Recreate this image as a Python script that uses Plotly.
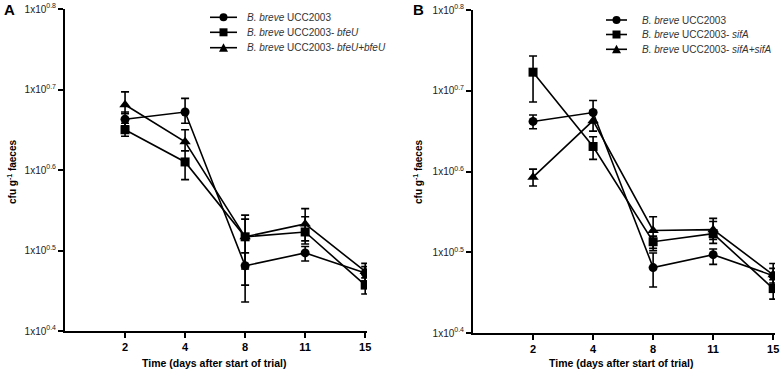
import plotly.graph_objects as go

days = ["2", "4", "8", "11", "15"]
ytick_vals = [4, 5, 6, 7, 8]
ytick_text = ["1x10<sup>0.4</sup>", "1x10<sup>0.5</sup>", "1x10<sup>0.6</sup>", "1x10<sup>0.7</sup>", "1x10<sup>0.8</sup>"]

# Panel A (log10 cfu/g)
a_wt = [6.63, 6.72, 4.81, 4.97, 4.72]
a_wt_hi = [6.72, 6.89, 4.97, 5.05, 4.84]
a_wt_lo = [6.55, 6.58, 4.36, 4.87, 4.62]
a_mut = [6.50, 6.10, 5.17, 5.23, 4.57]
a_mut_hi = [6.58, 6.24, 5.39, 5.42, 4.66]
a_mut_lo = [6.42, 5.88, 4.77, 5.08, 4.46]
a_comp = [6.81, 6.35, 5.17, 5.33, 4.74]
a_comp_hi = [6.97, 6.50, 5.44, 5.52, 4.80]
a_comp_lo = [6.70, 6.24, 4.57, 5.12, 4.62]

# Panel B
b_wt = [6.62, 6.73, 4.81, 4.97, 4.71]
b_wt_hi = [6.70, 6.88, 4.99, 5.04, 4.80]
b_wt_lo = [6.53, 6.60, 4.57, 4.85, 4.62]
b_mut = [7.23, 6.31, 5.13, 5.23, 4.55]
b_mut_hi = [7.43, 6.43, 5.20, 5.38, 4.66]
b_mut_lo = [6.86, 6.15, 5.02, 5.11, 4.42]
b_comp = [5.93, 6.63, 5.27, 5.28, 4.72]
b_comp_hi = [6.03, 6.75, 5.44, 5.42, 4.86]
b_comp_lo = [5.82, 6.50, 5.05, 5.16, 4.60]

names_a = ["<i>B. breve</i> UCC2003", "<i>B. breve</i> UCC2003- <i>bfeU</i>", "<i>B. breve</i> UCC2003- <i>bfeU+bfeU</i>"]
names_b = ["<i>B. breve</i> UCC2003", "<i>B. breve</i> UCC2003- <i>sifA</i>", "<i>B. breve</i> UCC2003- <i>sifA+sifA</i>"]
symbols = ["circle", "square", "triangle-up"]

W, H = 780, 373
FONT = "Arial, Liberation Sans, sans-serif"
xpos = [1, 2, 3, 4, 5]

def px_x(p):
    return p / W

def px_y(p):
    return 1 - p / H

fig = go.Figure()

def add_series(vals, hi, lo, name, sym, xa, ya):
    fig.add_trace(go.Scatter(
        x=xpos, y=vals, name=name, mode="lines+markers",
        xaxis=xa, yaxis=ya, showlegend=False,
        line=dict(color="black", width=1.6),
        marker=dict(symbol=sym, size=9 if sym != "triangle-up" else 10, color="black"),
        error_y=dict(type="data", symmetric=False,
                     array=[h - v for h, v in zip(hi, vals)],
                     arrayminus=[v - l for v, l in zip(vals, lo)],
                     color="black", thickness=1.6, width=4),
    ))

series_a = [(a_wt, a_wt_hi, a_wt_lo), (a_mut, a_mut_hi, a_mut_lo), (a_comp, a_comp_hi, a_comp_lo)]
series_b = [(b_wt, b_wt_hi, b_wt_lo), (b_mut, b_mut_hi, b_mut_lo), (b_comp, b_comp_hi, b_comp_lo)]
for (vals, hi, lo), nm, sym in zip(series_a, names_a, symbols):
    add_series(vals, hi, lo, nm, sym, "x", "y")
for (vals, hi, lo), nm, sym in zip(series_b, names_b, symbols):
    add_series(vals, hi, lo, nm, sym, "x2", "y2")

xaxis_common = dict(range=[0, 5.03], tickvals=xpos, ticktext=days, showline=True,
                    linecolor="black", linewidth=2, ticks="outside", ticklen=5,
                    tickwidth=2, tickcolor="black", showgrid=False, zeroline=False,
                    automargin=False,
                    tickfont=dict(family=FONT, size=11, color="black", weight="bold"))
yaxis_common = dict(range=[4, 8], tickvals=ytick_vals, ticktext=ytick_text, showline=True,
                    linecolor="black", linewidth=2, ticks="outside", ticklen=5,
                    tickwidth=2, tickcolor="black", showgrid=False, zeroline=False,
                    automargin=False,
                    tickfont=dict(family=FONT, size=10, color="#222"))

fig.update_layout(
    width=W, height=H, margin=dict(l=0, r=0, t=0, b=0, autoexpand=False),
    plot_bgcolor="white", paper_bgcolor="white",
    font=dict(family=FONT, color="black"),
    showlegend=False,
    xaxis=dict(domain=[px_x(65), px_x(367)], anchor="y", **xaxis_common),
    yaxis=dict(domain=[px_y(331), px_y(9)], anchor="x", **yaxis_common),
    xaxis2=dict(domain=[px_x(473), px_x(775)], anchor="y2", **xaxis_common),
    yaxis2=dict(domain=[px_y(333), px_y(10)], anchor="x2", **yaxis_common),
)

ann = []
shapes = []
def text_ann(text, xp, yp, size, angle=0, xanchor="center", color="black"):
    ann.append(dict(text=text, x=px_x(xp), y=px_y(yp), xref="paper", yref="paper",
                    xanchor=xanchor, yanchor="middle", textangle=angle, showarrow=False,
                    font=dict(size=size, family=FONT, color=color)))

text_ann("<b>A</b>", 9, 9, 15)
text_ann("<b>B</b>", 418, 9, 15)
for xc in [12, 418]:
    text_ann("<b>cfu g<sup>-1</sup> faeces</b>", xc, 172, 10, angle=-90)
for xc in [214, 621]:
    text_ann("<b>Time (days after start of trial)</b>", xc, 363, 10.5)

# Legends (drawn as layout decorations)
def legend_block(names, x0, x1, xt, rows):
    xc = (x0 + x1) / 2
    for nm, sym, ry in zip(names, symbols, rows):
        shapes.append(dict(type="line", xref="paper", yref="paper",
                           x0=px_x(x0), x1=px_x(x1), y0=px_y(ry), y1=px_y(ry),
                           line=dict(color="black", width=1.6)))
        r = 4
        if sym == "circle":
            shapes.append(dict(type="circle", xref="paper", yref="paper",
                               x0=px_x(xc - r), x1=px_x(xc + r), y0=px_y(ry + r), y1=px_y(ry - r),
                               fillcolor="black", line=dict(width=0)))
        elif sym == "square":
            shapes.append(dict(type="rect", xref="paper", yref="paper",
                               x0=px_x(xc - r), x1=px_x(xc + r), y0=px_y(ry + r), y1=px_y(ry - r),
                               fillcolor="black", line=dict(width=0)))
        else:
            path = "M {:.5f},{:.5f} L {:.5f},{:.5f} L {:.5f},{:.5f} Z".format(
                px_x(xc - 4.5), px_y(ry + 4), px_x(xc + 4.5), px_y(ry + 4), px_x(xc), px_y(ry - 4.5))
            shapes.append(dict(type="path", xref="paper", yref="paper", path=path,
                               fillcolor="black", line=dict(width=0)))
        text_ann(nm, xt, ry, 10, xanchor="left", color="#333")

legend_block(names_a, 210, 237, 245, [17.3, 32.3, 47.7])
legend_block(names_b, 606, 627, 640, [20, 34.5, 49.3])

fig.update_layout(annotations=ann, shapes=shapes)

fig.write_html("out.html", config={"displayModeBar": False},
               post_script="document.body.style.margin='0px';")
